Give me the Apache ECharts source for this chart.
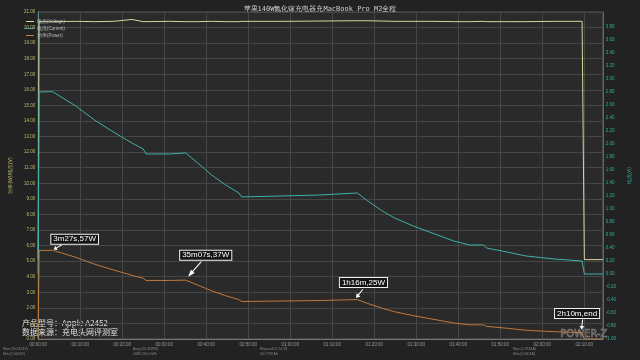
<!DOCTYPE html>
<html><head><meta charset="utf-8">
<script src="https://cdn.jsdelivr.net/npm/echarts@6/dist/echarts.min.js"></script>
<style>html,body{margin:0;padding:0;background:#222;}#c{width:640px;height:360px;}</style>
</head><body><div id="c"></div>
<script>
// time in minutes
const timeMin = [0, 0.22, 3.45, 8.93, 13.39, 17.86, 22.32, 25.0, 25.67, 31.25, 35.12, 37.95, 41.29, 44.64, 47.77, 48.44, 58.04, 66.96, 76.0, 78.13, 81.92, 84.82, 89.29, 93.75, 98.88, 102.68, 106.03, 106.7, 111.6, 116.07, 122.77, 129.46, 130.0, 134.4];
const voltageV = [5.1, 20.38, 20.38, 20.40, 20.38, 20.40, 20.52, 20.38, 20.38, 20.40, 20.38, 20.38, 20.40, 20.38, 20.38, 20.40, 20.40, 20.42, 20.44, 20.44, 20.42, 20.40, 20.40, 20.40, 20.38, 20.38, 20.40, 20.38, 20.38, 20.38, 20.40, 20.40, 5.1, 5.1];
const currentA = [0, 2.80, 2.805, 2.585, 2.369, 2.185, 2.015, 1.923, 1.846, 1.846, 1.862, 1.708, 1.523, 1.369, 1.246, 1.185, 1.200, 1.215, 1.246, 1.138, 0.969, 0.862, 0.738, 0.631, 0.508, 0.446, 0.446, 0.400, 0.338, 0.277, 0.231, 0.200, 0, 0];
const powerW = [0, 56.8, 57.0, 52.5, 48.1, 44.4, 40.9, 39.0, 37.6, 37.6, 37.8, 34.7, 30.9, 27.8, 25.3, 24.1, 24.4, 24.7, 25.3, 23.1, 19.7, 17.5, 15.0, 12.8, 10.3, 9.1, 9.1, 8.1, 6.9, 5.6, 4.7, 4.1, 0, 0];

const annoText = ['3m27s,57W', '35m07s,37W', '1h16m,25W', '2h10m,end'];
const annoIdx = [2, 10, 18, 31];

const seriesNames = ['电压(Voltage)', '电流(Current)', '功率(Power)'];
const title = '苹果140W氮化镓充电器充MacBook Pro M2全程';
const infoLines = ['产品型号：Apple A2452', '数据来源：充电头网评测室'];

const pair = (arr) => timeMin.map((t, i) => [t, arr[i]]);
const pad = n => (n < 10 ? '0' : '') + n;
const fmtTime = v => { const m = Math.round(v); return pad(Math.floor(m / 60)) + ':' + pad(m % 60) + ':00'; };

const arrowPath = 'path://M4,0 L6,0 L6,13 L10,13 L5,20 L0,13 L4,13 Z';
const arrowCfg = [
  {rot: -60, size: [5, 9], off: [5, -3]},
  {rot: -41, size: [5, 20], off: [9, -11]},
  {rot: -38, size: [5, 11], off: [2, -6]},
  {rot: -6, size: [5, 10], off: [0, -8]}
];
const labelOff = [[22, -11], [20, -25], [6, -17], [-5, -19]];

const markData = [];
annoIdx.forEach((idx, k) => {
  const coord = [timeMin[idx], powerW[idx]];
  markData.push({
    coord: coord, symbol: arrowPath, symbolKeepAspect: false,
    symbolSize: arrowCfg[k].size, symbolRotate: arrowCfg[k].rot, symbolOffset: arrowCfg[k].off,
    itemStyle: {color: '#fff'}, label: {show: false}
  });
  markData.push({
    coord: coord, symbol: 'circle', symbolSize: 0.1,
    itemStyle: {color: 'rgba(0,0,0,0)'},
    label: {
      show: true, formatter: annoText[k], position: 'inside', offset: labelOff[k],
      color: '#fff', fontSize: 8, fontFamily: 'Liberation Sans',
      backgroundColor: '#151515', borderColor: '#f0f0f0', borderWidth: 1, padding: [1, 2, 0, 2]
    }
  });
});

const chart = echarts.init(document.getElementById('c'), null, {renderer: 'canvas'});
chart.setOption({
  backgroundColor: '#222222',
  animation: false,
  title: {text: title, left: 'center', top: 1, textStyle: {color: '#cfcfcf', fontSize: 7, fontWeight: 'normal', fontFamily: 'DejaVu Sans Mono'}},
  legend: {
    data: seriesNames, orient: 'vertical', left: 21, top: 14, itemWidth: 8, itemHeight: 1, itemGap: 2, icon: 'rect',
    textStyle: {color: '#bbb', fontSize: 4.5, padding: [0, 0, 0, -2]}
  },
  grid: {left: 20, right: 18, top: 12, bottom: 21, show: true, backgroundColor: '#2a2a2a', borderColor: '#555', borderWidth: 1},
  xAxis: {
    type: 'value', min: 0, max: 134.4, interval: 10,
    axisLine: {lineStyle: {color: '#777'}}, axisTick: {show: false},
    axisLabel: {color: '#999', fontSize: 4.5, margin: 3, formatter: v => (v > 131 ? '' : fmtTime(v)), showMaxLabel: false},
    splitLine: {lineStyle: {color: '#464646', width: 1}}
  },
  yAxis: [
    {
      type: 'value', min: 0, max: 21, interval: 1, position: 'left',
      name: '功率(W)/电压(V)', nameLocation: 'middle', nameGap: 14,
      nameTextStyle: {color: '#c8c070', fontSize: 5},
      axisLine: {show: true, lineStyle: {color: '#5a8a86'}}, axisTick: {show: false},
      axisLabel: {color: '#c0b870', fontSize: 4.5, margin: 3, formatter: v => v.toFixed(2)},
      splitLine: {lineStyle: {color: '#464646', width: 1}}
    },
    {
      type: 'value', min: -1, max: 4.03, interval: 0.2, position: 'right',
      name: '电流(A)', nameLocation: 'middle', nameGap: 12, nameRotate: 90,
      nameTextStyle: {color: '#2fa89a', fontSize: 5},
      axisLine: {show: true, lineStyle: {color: '#666'}}, axisTick: {show: false},
      axisLabel: {color: '#2fb0a0', fontSize: 4.5, margin: 3, formatter: v => (v > 3.85 ? '' : v.toFixed(2))},
      splitLine: {show: false}
    },
    {type: 'value', min: 0, max: 210, show: false}
  ],
  series: [
    {name: seriesNames[0], type: 'line', yAxisIndex: 0, data: pair(voltageV), showSymbol: false, symbol: 'none',
     lineStyle: {color: '#d8d49a', width: 1}, itemStyle: {color: '#d8d49a'}},
    {name: seriesNames[1], type: 'line', yAxisIndex: 1, data: pair(currentA), showSymbol: false, symbol: 'none',
     lineStyle: {color: '#3fb0aa', width: 1}, itemStyle: {color: '#3fb0aa'}},
    {name: seriesNames[2], type: 'line', yAxisIndex: 2, data: pair(powerW), showSymbol: false, symbol: 'none',
     lineStyle: {color: '#c07a3c', width: 1}, itemStyle: {color: '#c07a3c'},
     markPoint: {silent: true, data: markData}}
  ],
  graphic: [
    {type: 'text', left: 22, top: 319, style: {text: infoLines[0], fill: '#e0e0e0', fontSize: 8, fontFamily: 'Noto Sans CJK SC'}},
    {type: 'text', left: 22, top: 328, style: {text: infoLines[1], fill: '#e0e0e0', fontSize: 8, fontFamily: 'Noto Sans CJK SC'}},
    {type: 'text', left: 560, top: 329, style: {text: 'POWER-Z', fill: 'rgba(0,0,0,0)', stroke: '#8a8a8a', lineWidth: 0.6, fontSize: 10, fontFamily: 'DejaVu Sans'}},
    {type: 'text', left: 3, top: 347, style: {text: 'Max:(20.5324V)\nMin:(5.0003V)', fill: '#888', fontSize: 3.5, lineHeight: 5}},
    {type: 'text', left: 133, top: 347, style: {text: 'Avrg:(20.3589V)\n2082.262 mWh', fill: '#888', fontSize: 3.5, lineHeight: 5}},
    {type: 'text', left: 260, top: 347, style: {text: 'Elapsed:02:14:18\n00:7759 Ah', fill: '#888', fontSize: 3.5, lineHeight: 5}},
    {type: 'text', left: 513, top: 347, style: {text: 'Max:(2.9746A)\nMin:(0.0001A)', fill: '#888', fontSize: 3.5, lineHeight: 5}}
  ]
});
</script>
</body></html>
